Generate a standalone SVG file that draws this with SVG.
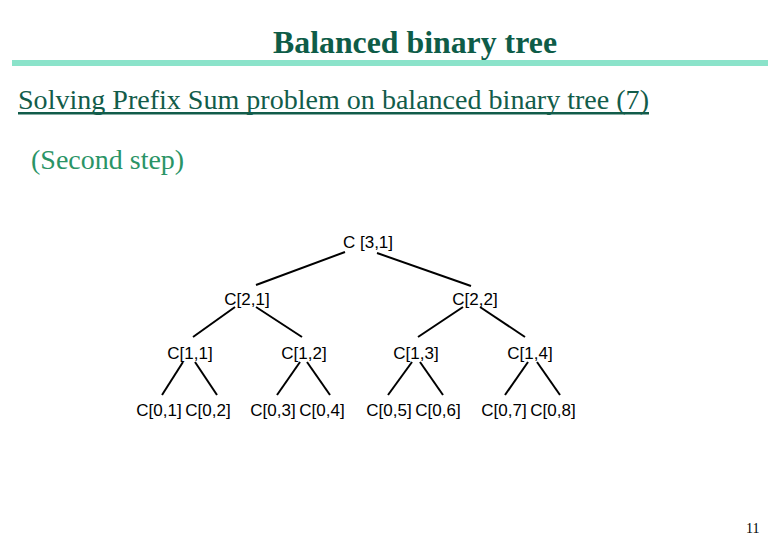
<svg xmlns="http://www.w3.org/2000/svg" width="780" height="540" viewBox="0 0 780 540">
<style>
.title{font-family:"Liberation Serif","Times New Roman",serif;font-weight:bold;font-size:32px;fill:#0e5c48}
.sub{font-family:"Liberation Serif","Times New Roman",serif;font-size:28px;fill:#125c4a}
.step{font-family:"Liberation Serif","Times New Roman",serif;font-size:28px;fill:#2a9466}
.pg{font-family:"Liberation Serif","Times New Roman",serif;font-size:14px;fill:#000}
.n{font-family:"Liberation Sans",Arial,sans-serif;font-size:17px;fill:#000;text-anchor:middle}
.e{stroke:#000;stroke-width:2;fill:none}
</style>
<rect width="780" height="540" fill="#fff"/>
<text class="title" x="273" y="53" textLength="284" lengthAdjust="spacingAndGlyphs">Balanced binary tree</text>
<rect x="12" y="60" width="756" height="6" fill="#8be3ca"/>
<text class="sub" x="18" y="109" textLength="631" lengthAdjust="spacingAndGlyphs">Solving Prefix Sum problem on balanced binary tree (7)</text>
<rect x="18" y="112" width="631" height="2.5" fill="#125c4a"/>
<text class="step" x="31" y="169">(Second step)</text>
<text class="pg" x="746" y="533">11</text>
<g id="connectors">
<line class="e" x1="345" y1="252" x2="256" y2="285"/>
<line class="e" x1="377" y1="253" x2="471" y2="286"/>
<line class="e" x1="235" y1="307" x2="193" y2="337"/>
<line class="e" x1="256" y1="307" x2="302" y2="337"/>
<line class="e" x1="463" y1="307" x2="418" y2="337"/>
<line class="e" x1="480" y1="307" x2="525" y2="337"/>
<line class="e" x1="183" y1="362" x2="162" y2="395"/>
<line class="e" x1="195" y1="362" x2="217" y2="395"/>
<line class="e" x1="300" y1="362" x2="277" y2="395"/>
<line class="e" x1="307" y1="362" x2="330" y2="395"/>
<line class="e" x1="412" y1="362" x2="388" y2="395"/>
<line class="e" x1="420" y1="362" x2="443" y2="395"/>
<line class="e" x1="528" y1="362" x2="505" y2="395"/>
<line class="e" x1="537" y1="362" x2="560" y2="395"/>
</g>
<g id="n31"><text class="n" x="368" y="248">C [3,1]</text></g>
<g id="n21"><text class="n" x="247" y="305">C[2,1]</text></g>
<g id="n22"><text class="n" x="475" y="305">C[2,2]</text></g>
<g id="n11"><text class="n" x="190" y="359">C[1,1]</text></g>
<g id="n12"><text class="n" x="304" y="359">C[1,2]</text></g>
<g id="n13"><text class="n" x="416" y="359">C[1,3]</text></g>
<g id="n14"><text class="n" x="530" y="359">C[1,4]</text></g>
<g id="n01"><text class="n" x="159" y="416">C[0,1]</text></g>
<g id="n02"><text class="n" x="208" y="416">C[0,2]</text></g>
<g id="n03"><text class="n" x="273" y="416">C[0,3]</text></g>
<g id="n04"><text class="n" x="322" y="416">C[0,4]</text></g>
<g id="n05"><text class="n" x="389" y="416">C[0,5]</text></g>
<g id="n06"><text class="n" x="438" y="416">C[0,6]</text></g>
<g id="n07"><text class="n" x="504" y="416">C[0,7]</text></g>
<g id="n08"><text class="n" x="553" y="416">C[0,8]</text></g>
</svg>
